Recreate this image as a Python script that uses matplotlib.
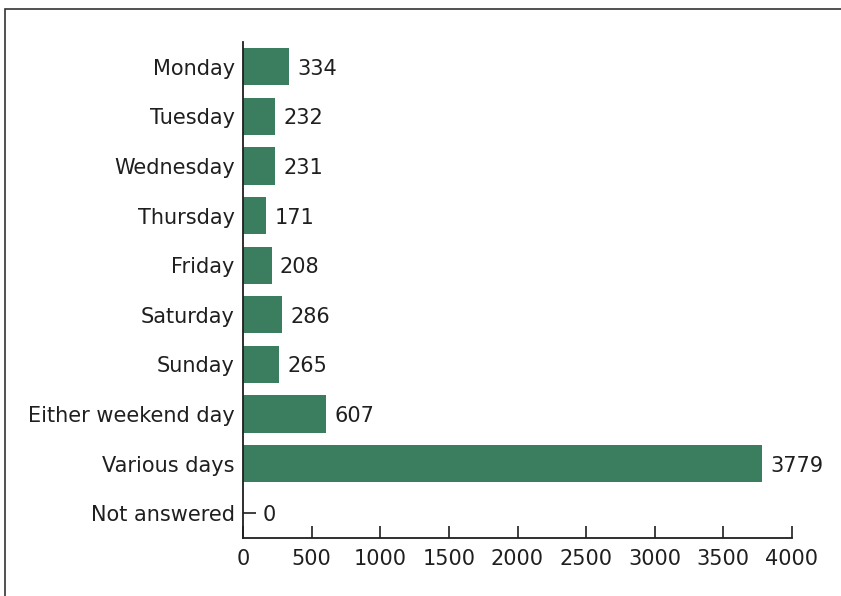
import matplotlib.pyplot as plt
from matplotlib.patches import Rectangle
from matplotlib.transforms import ScaledTranslation

plt.rcParams['font.family'] = ['DejaVu Sans']

days = ['Monday', 'Tuesday', 'Wednesday', 'Thursday', 'Friday', 'Saturday',
        'Sunday', 'Either weekend day', 'Various days', 'Not answered']
counts = [334, 232, 231, 171, 208, 286, 265, 607, 3779, 0]
xticks = [0, 500, 1000, 1500, 2000, 2500, 3000, 3500, 4000]

GREEN = '#3b7d5f'
INK = '#1f1f1f'
FS = 15

fig = plt.figure(figsize=(8.41, 5.96), dpi=100)
ax = fig.add_axes([243/841, 58/596, 549/841, 496/596])

bars = ax.barh(range(len(days)), counts, height=0.75, color=GREEN, zorder=2)
for i, c in enumerate(counts):
    # empty bars get their label pushed past the tick mark
    pad = 6 if c > 0 else 14
    ax.annotate(str(c), (c, i), xytext=(pad, -1.5), textcoords='offset points',
                va='center', ha='left', fontsize=FS, color=INK)

ax.set_yticks(range(len(days)))
ax.set_yticklabels(days, va='center')
ax.set_ylim(9.5, -0.5)
ax.set_xlim(0, 4000)
ax.set_xticks(xticks)
ax.set_axisbelow(True)

ax.tick_params(axis='both', direction='in', length=9, width=1.2,
               labelsize=FS, labelcolor=INK, color=INK)
ax.tick_params(axis='x', pad=8)
ax.tick_params(axis='y', pad=6)
# nudge category labels a touch lower, like the original
shift = ScaledTranslation(0, -2/100, fig.dpi_scale_trans)
for lbl in ax.get_yticklabels():
    lbl.set_transform(lbl.get_transform() + shift)

for s in ['top', 'right']:
    ax.spines[s].set_visible(False)
for s in ['left', 'bottom']:
    ax.spines[s].set_linewidth(1.3)
    ax.spines[s].set_color(INK)

# outer frame (left and top edges visible)
fig.patches.append(Rectangle((5/841, -0.2), 1.2, 1.2 - 9/596,
                             transform=fig.transFigure, fill=False,
                             edgecolor='#333333', linewidth=1.2))

fig.savefig('out.png', dpi=100)
